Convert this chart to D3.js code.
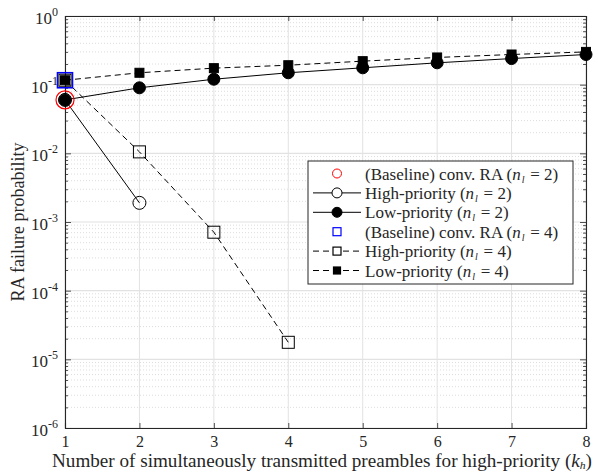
<!DOCTYPE html>
<html>
<head>
<meta charset="utf-8">
<script src="https://cdn.jsdelivr.net/npm/d3@7"></script>
<style>
  body { margin: 0; background: #fff; }
  svg text { font-family: "Liberation Serif", "Times New Roman", serif; fill: #262626; }
</style>
</head>
<body>
<div id="chart"></div>
<script>
// data
const kh = [1, 2, 3, 4, 5, 6, 7, 8];
const baseline2 = [0.060];
const high2 = [0.060, 0.0019];
const low2 = [0.060, 0.090, 0.120, 0.149, 0.176, 0.208, 0.240, 0.275];
const baseline4 = [0.116];
const high4 = [0.116, 0.0105, 0.00071, 0.0000177];
const low4 = [0.116, 0.149, 0.174, 0.192, 0.220, 0.249, 0.275, 0.300];
const yDecades = [-6, -5, -4, -3, -2, -1, 0];

const svgWidth = 598, svgHeight = 472;
const margin = { top: 16, right: 12, bottom: 44, left: 65 };
const w = svgWidth - margin.left - margin.right;
const h = svgHeight - margin.top - margin.bottom;
const axisColor = "#262626";

const svg = d3.select("#chart").append("svg")
  .attr("width", svgWidth).attr("height", svgHeight);
const g = svg.append("g").attr("transform", `translate(${margin.left},${margin.top})`);

const xScale = d3.scaleLinear().domain([1, 8]).range([0, w]);
const yScale = d3.scaleLog().domain([1e-6, 1]).range([h, 0]);

// minor tick values on the log axis
const minorVals = [];
yDecades.slice(0, -1).forEach(d => {
  for (let m = 2; m <= 9; m++) minorVals.push(m * Math.pow(10, d));
});
const majorVals = yDecades.map(d => Math.pow(10, d));

// grid
g.append("g").selectAll("line").data(minorVals).enter().append("line")
  .attr("x1", 0).attr("x2", w)
  .attr("y1", d => yScale(d)).attr("y2", d => yScale(d))
  .attr("stroke", "#d4d4d4").attr("stroke-width", 0.8).attr("stroke-dasharray", "1,2");
g.append("g").selectAll("line").data(majorVals).enter().append("line")
  .attr("x1", 0).attr("x2", w)
  .attr("y1", d => yScale(d)).attr("y2", d => yScale(d))
  .attr("stroke", "#e2e2e2").attr("stroke-width", 1.2);
g.append("g").selectAll("line").data(kh).enter().append("line")
  .attr("x1", d => xScale(d)).attr("x2", d => xScale(d))
  .attr("y1", 0).attr("y2", h)
  .attr("stroke", "#e2e2e2").attr("stroke-width", 1);

// axes with inward ticks
const xAxisB = d3.axisBottom(xScale).tickValues(kh).tickSize(-5).tickPadding(8).tickFormat(d3.format("d"));
const xAxisT = d3.axisTop(xScale).tickValues(kh).tickSize(-5).tickFormat("");
const yAxisL = d3.axisLeft(yScale).tickValues(majorVals).tickSize(-6).tickFormat("");
const yAxisR = d3.axisRight(yScale).tickValues(majorVals).tickSize(-6).tickFormat("");
const yMinorL = d3.axisLeft(yScale).tickValues(minorVals).tickSize(-3).tickFormat("");
const yMinorR = d3.axisRight(yScale).tickValues(minorVals).tickSize(-3).tickFormat("");

function styleAxis(sel) {
  sel.attr("font-family", null);
  sel.selectAll("path").attr("stroke", axisColor).attr("stroke-width", 1.1);
  sel.selectAll("line").attr("stroke", axisColor).attr("stroke-width", 0.8);
  sel.selectAll("text").attr("font-size", 16).attr("fill", axisColor);
}
g.append("g").attr("transform", `translate(0,${h})`).call(xAxisB).call(styleAxis);
g.append("g").call(xAxisT).call(styleAxis);
g.append("g").call(yAxisL).call(styleAxis);
g.append("g").attr("transform", `translate(${w},0)`).call(yAxisR).call(styleAxis);
g.append("g").call(yMinorL).call(styleAxis).select("path").remove();
g.append("g").attr("transform", `translate(${w},0)`).call(yMinorR).call(styleAxis).select("path").remove();

// y tick labels with superscripts
const yLab = g.append("g").selectAll("text").data(yDecades).enter().append("text")
  .attr("x", -7).attr("y", d => yScale(Math.pow(10, d)) + 8)
  .attr("text-anchor", "end").attr("font-size", 17);
yLab.append("tspan").text("10");
yLab.append("tspan").attr("dy", -8).attr("font-size", 12).text(d => d);

// lines
const line = d3.line().x((d, i) => xScale(kh[i])).y(d => yScale(d));
function drawLine(vals, dash) {
  g.append("path").datum(vals).attr("d", line)
    .attr("fill", "none").attr("stroke", "#000").attr("stroke-width", 1)
    .attr("stroke-dasharray", dash);
}
drawLine(high2, null);
drawLine(low2, null);
drawLine(high4, "6,4");
drawLine(low4, "6,4");

// markers
function circles(vals, r, fill, stroke, sw) {
  g.append("g").selectAll("circle").data(vals).enter().append("circle")
    .attr("cx", (d, i) => xScale(kh[i])).attr("cy", d => yScale(d)).attr("r", r)
    .attr("fill", fill).attr("stroke", stroke).attr("stroke-width", sw);
}
function squares(vals, s, fill, stroke, sw) {
  g.append("g").selectAll("rect").data(vals).enter().append("rect")
    .attr("x", (d, i) => xScale(kh[i]) - s / 2).attr("y", d => yScale(d) - s / 2)
    .attr("width", s).attr("height", s)
    .attr("fill", fill).attr("stroke", stroke).attr("stroke-width", sw);
}
circles(baseline2, 9, "none", "#ff0000", 1.2);
circles(high2, 6.5, "none", "#000", 1);
circles(low2, 6, "#000", "#000", 1);
squares(baseline4, 15, "none", "#0000ff", 1.6);
squares(high4, 12, "none", "#000", 1);
squares(low4, 9, "#000", "#000", 1);

// axis labels
svg.append("text").attr("x", 322).attr("y", 467)
  .attr("text-anchor", "middle").attr("font-size", 18)
  .attr("textLength", 540).attr("lengthAdjust", "spacingAndGlyphs")
  .call(t => {
    t.append("tspan").text("Number of simultaneously transmitted preambles for high-priority (");
    t.append("tspan").attr("font-style", "italic").text("k");
    t.append("tspan").attr("font-style", "italic").attr("font-size", 11).attr("dy", 1.5).text("h");
    t.append("tspan").attr("dy", -1.5).text(")");
  });
svg.append("text").attr("transform", `translate(24,${margin.top + h / 2}) rotate(-90)`)
  .attr("text-anchor", "middle").attr("font-size", 18).text("RA failure probability");

// legend
const legendItems = [
  { label: "(Baseline) conv. RA", n: 2, marker: "circle", r: 4.5, fill: "none", stroke: "#ff0000", line: false },
  { label: "High-priority", n: 2, marker: "circle", r: 5, fill: "none", stroke: "#000", line: true, dash: null },
  { label: "Low-priority", n: 2, marker: "circle", r: 5, fill: "#000", stroke: "#000", line: true, dash: null },
  { label: "(Baseline) conv. RA", n: 4, marker: "square", s: 8, fill: "none", stroke: "#0000ff", line: false },
  { label: "High-priority", n: 4, marker: "square", s: 8, fill: "none", stroke: "#000", line: true, dash: "6,4" },
  { label: "Low-priority", n: 4, marker: "square", s: 7, fill: "#000", stroke: "#000", line: true, dash: "6,4" }
];
const lg = svg.append("g").attr("transform", "translate(308,161)");
lg.append("rect").attr("width", 265).attr("height", 123)
  .attr("fill", "#fff").attr("stroke", axisColor).attr("stroke-width", 1);
legendItems.forEach((it, i) => {
  const cy = 12.5 + i * 19.4;
  const row = lg.append("g").attr("transform", `translate(0,${cy})`);
  if (it.line) {
    row.append("line").attr("x1", 5).attr("x2", 53).attr("y1", 0).attr("y2", 0)
      .attr("stroke", "#000").attr("stroke-width", 1).attr("stroke-dasharray", it.dash);
  }
  if (it.marker === "circle") {
    row.append("circle").attr("cx", 29).attr("cy", 0).attr("r", it.r)
      .attr("fill", it.fill === "none" ? "#fff" : it.fill).attr("stroke", it.stroke);
  } else {
    row.append("rect").attr("x", 29 - it.s / 2).attr("y", -it.s / 2).attr("width", it.s).attr("height", it.s)
      .attr("fill", it.fill === "none" ? "#fff" : it.fill).attr("stroke", it.stroke).attr("stroke-width", 1.2);
  }
  const t = row.append("text").attr("x", 57).attr("y", 6).attr("font-size", 17);
  t.append("tspan").text(it.label + " (");
  t.append("tspan").attr("font-style", "italic").text("n");
  t.append("tspan").attr("font-style", "italic").attr("font-size", 10).attr("dx", 1).attr("dy", 3).text("l");
  t.append("tspan").attr("dx", 1.5).attr("dy", -3).text(" = " + it.n + ")");
});
</script>
</body>
</html>
